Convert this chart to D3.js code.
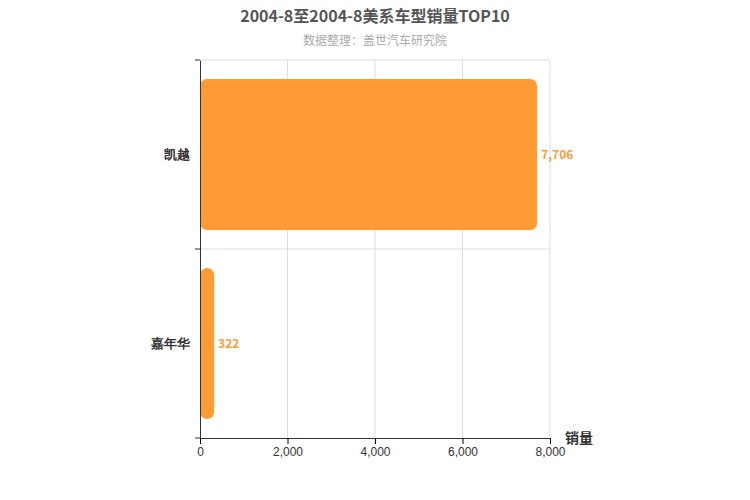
<!DOCTYPE html>
<html><head><meta charset="utf-8">
<script src="https://cdn.jsdelivr.net/npm/d3@7"></script>
<style>body{margin:0;background:#fff;font-family:"Noto Sans CJK SC",sans-serif;}</style>
</head><body><div id="chart"></div>
<script>
var categories = ['凯越', '嘉年华'];
var sales = [7706, 322];
var xTicks = [0, 2000, 4000, 6000, 8000];

var margin = {top: 60, right: 200, bottom: 62, left: 200};
var W = 750, H = 500;
var svg = d3.select('#chart').append('svg').attr('width', W).attr('height', H);

var x = d3.scaleLinear().domain([0, 8000]).range([margin.left, W - margin.right]);
var y = d3.scaleBand().domain(categories).range([margin.top, H - margin.bottom]).paddingInner(0.2).paddingOuter(0.1);

svg.append('text').attr('x', 375).attr('y', 22).attr('text-anchor', 'middle')
    .attr('font-size', 16).attr('font-weight', 'bold').attr('fill', '#555').text('2004-8至2004-8美系车型销量TOP10');
svg.append('text').attr('x', 375).attr('y', 45).attr('text-anchor', 'middle')
    .attr('font-size', 12).attr('fill', '#aaa').text('数据整理：盖世汽车研究院');

// grid
svg.append('g').selectAll('line').data(xTicks.slice(1)).enter().append('line')
    .attr('x1', x).attr('x2', x).attr('y1', margin.top).attr('y2', H - margin.bottom)
    .attr('stroke', '#ddd');
var bounds = [margin.top, (margin.top + H - margin.bottom) / 2];
svg.append('g').selectAll('line').data(bounds).enter().append('line')
    .attr('x1', margin.left).attr('x2', W - margin.right).attr('y1', function(d){return d;}).attr('y2', function(d){return d;})
    .attr('stroke', '#ddd');

// bars
svg.append('g').selectAll('rect').data(sales).enter().append('rect')
    .attr('x', x(0)).attr('y', function(d, i){ return y(categories[i]); })
    .attr('width', function(d){ return x(d) - x(0); }).attr('height', y.bandwidth())
    .attr('rx', 7).attr('fill', '#ff9a35');
svg.append('g').selectAll('text').data(sales).enter().append('text')
    .attr('x', function(d){ return x(d) + 4; })
    .attr('y', function(d, i){ return y(categories[i]) + y.bandwidth() / 2; })
    .attr('dy', '0.35em').attr('font-size', 12).attr('font-weight', 'bold').attr('fill', '#ff9a35')
    .text(function(d){ return d3.format(',')(d); });

// axes
var xAxis = svg.append('g').attr('transform', 'translate(0,' + (H - margin.bottom) + ')')
    .call(d3.axisBottom(x).tickValues(xTicks).tickFormat(d3.format(',')).tickSizeOuter(0));
xAxis.select('.domain').attr('stroke', '#333');
xAxis.selectAll('text').attr('font-size', 12).attr('fill', '#333');

var yb = d3.scaleBand().domain(categories).range([margin.top, H - margin.bottom]);
var yAxis = svg.append('g').attr('transform', 'translate(' + margin.left + ',0)')
    .call(d3.axisLeft(yb).tickSize(0).tickPadding(10));
yAxis.select('.domain').attr('stroke', '#333');
yAxis.selectAll('text').attr('font-size', 13).attr('font-weight', 'bold').attr('fill', '#333');
svg.append('g').selectAll('line').data([margin.top, (margin.top + H - margin.bottom) / 2, H - margin.bottom]).enter().append('line')
    .attr('x1', margin.left - 5).attr('x2', margin.left).attr('y1', function(d){return d;}).attr('y2', function(d){return d;})
    .attr('stroke', '#333');

svg.append('text').attr('x', 565).attr('y', 443).attr('font-size', 14).attr('font-weight', 'bold').attr('fill', '#333').text('销量');
</script></body></html>
